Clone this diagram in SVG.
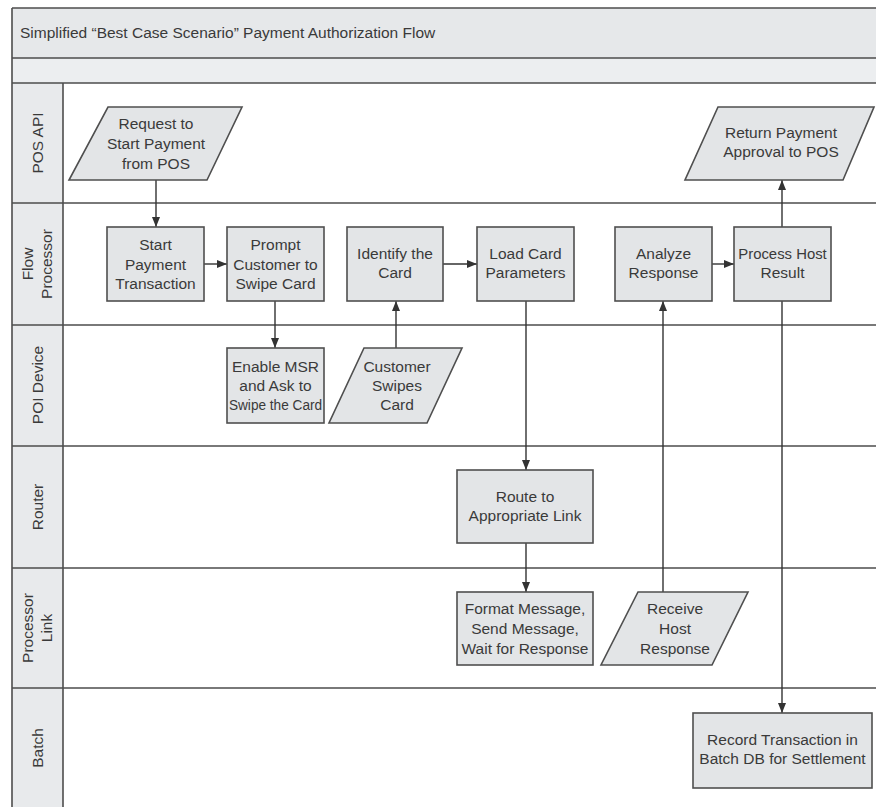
<svg xmlns="http://www.w3.org/2000/svg" width="876" height="807" viewBox="0 0 876 807">
<defs>
<style>
.lane{stroke:#4d4d4d;stroke-width:1.6;fill:none}
.node{fill:#e3e5e7;stroke:#4f4f4f;stroke-width:1.6}
.t{font-family:"Liberation Sans",Arial,sans-serif;font-size:15.5px;fill:#3a3a3a;text-anchor:middle}
.lbl{font-family:"Liberation Sans",Arial,sans-serif;font-size:15.5px;fill:#3a3a3a;text-anchor:middle}
.title{font-family:"Liberation Sans",Arial,sans-serif;font-size:15.5px;fill:#3a3a3a}
.c{stroke:#333;stroke-width:1.4;fill:none;marker-end:url(#ah)}
</style>
<marker id="ah" markerWidth="10" markerHeight="8" refX="10" refY="4" orient="auto" markerUnits="userSpaceOnUse">
<path d="M0,0 L10,4 L0,8 Z" fill="#333"/>
</marker>
</defs>
<rect width="876" height="807" fill="#fff"/>
<g id="lanes">
<rect x="12" y="8" width="870" height="50" fill="#e6e8ea"/>
<rect x="12" y="58" width="870" height="25" fill="#eceef0"/>
<rect x="12" y="83" width="51" height="730" fill="#e8eaec"/>
<line class="lane" x1="12" y1="8" x2="876" y2="8"/>
<line class="lane" x1="12" y1="58" x2="876" y2="58"/>
<line class="lane" x1="12" y1="83" x2="876" y2="83"/>
<line class="lane" x1="12" y1="203" x2="876" y2="203"/>
<line class="lane" x1="12" y1="325" x2="876" y2="325"/>
<line class="lane" x1="12" y1="446" x2="876" y2="446"/>
<line class="lane" x1="12" y1="568" x2="876" y2="568"/>
<line class="lane" x1="12" y1="688" x2="876" y2="688"/>
<line class="lane" x1="12" y1="8" x2="12" y2="807"/>
<line class="lane" x1="63" y1="83" x2="63" y2="807"/>
<text class="title" x="20" y="38">Simplified “Best Case Scenario” Payment Authorization Flow</text>
<text class="lbl" transform="translate(37,143) rotate(-90)" y="6">POS API</text>
<text class="lbl" transform="translate(37,264) rotate(-90)"><tspan x="0" y="-4">Flow</tspan><tspan x="0" y="15">Processor</tspan></text>
<text class="lbl" transform="translate(37,385) rotate(-90)" y="6">POI Device</text>
<text class="lbl" transform="translate(37,507) rotate(-90)" y="6">Router</text>
<text class="lbl" transform="translate(37,628) rotate(-90)"><tspan x="0" y="-4">Processor</tspan><tspan x="0" y="15">Link</tspan></text>
<text class="lbl" transform="translate(37,748) rotate(-90)" y="6">Batch</text>
</g>
<g id="connectors">
<line class="c" x1="156" y1="180" x2="156" y2="227"/>
<line class="c" x1="204" y1="264" x2="227" y2="264"/>
<line class="c" x1="275" y1="301" x2="275" y2="348"/>
<line class="c" x1="396" y1="348" x2="396" y2="301"/>
<line class="c" x1="443" y1="264" x2="477" y2="264"/>
<line class="c" x1="526" y1="301" x2="526" y2="470"/>
<line class="c" x1="526" y1="543" x2="526" y2="592"/>
<line class="c" x1="663" y1="592" x2="663" y2="301"/>
<line class="c" x1="712" y1="264" x2="734" y2="264"/>
<line class="c" x1="782" y1="227" x2="782" y2="180"/>
<line class="c" x1="782" y1="301" x2="782" y2="713"/>
</g>
<g id="request">
<polygon class="node" points="108,107 242,107 207,180 69,180"/>
<text class="t"><tspan x="156" y="129">Request to</tspan><tspan x="156" y="149">Start Payment</tspan><tspan x="156" y="169">from POS</tspan></text>
</g>
<g id="start">
<rect class="node" x="107" y="227" width="97" height="74"/>
<text class="t"><tspan x="155.5" y="250">Start</tspan><tspan x="155.5" y="269.5">Payment</tspan><tspan x="155.5" y="289">Transaction</tspan></text>
</g>
<g id="prompt">
<rect class="node" x="227" y="227" width="97" height="74"/>
<text class="t"><tspan x="275.5" y="250">Prompt</tspan><tspan x="275.5" y="269.5">Customer to</tspan><tspan x="275.5" y="289">Swipe Card</tspan></text>
</g>
<g id="identify">
<rect class="node" x="347" y="227" width="96" height="74"/>
<text class="t"><tspan x="395" y="259">Identify the</tspan><tspan x="395" y="278">Card</tspan></text>
</g>
<g id="load">
<rect class="node" x="477" y="227" width="97" height="74"/>
<text class="t"><tspan x="525.5" y="259">Load Card</tspan><tspan x="525.5" y="278">Parameters</tspan></text>
</g>
<g id="analyze">
<rect class="node" x="615" y="227" width="97" height="74"/>
<text class="t"><tspan x="663.5" y="259">Analyze</tspan><tspan x="663.5" y="278">Response</tspan></text>
</g>
<g id="process">
<rect class="node" x="734" y="227" width="97" height="74"/>
<text class="t" transform="translate(782.5,259) scale(0.96,1)" x="0" y="0">Process Host</text>
<text class="t" x="782.5" y="278">Result</text>
</g>
<g id="return">
<polygon class="node" points="718,107 874,107 843,180 685,180"/>
<text class="t"><tspan x="781" y="138">Return Payment</tspan><tspan x="781" y="157">Approval to POS</tspan></text>
</g>
<g id="enable">
<rect class="node" x="227" y="348" width="97" height="75"/>
<text class="t"><tspan x="275.5" y="372">Enable MSR</tspan><tspan x="275.5" y="391">and Ask to</tspan></text>
<text class="t" transform="translate(275.5,410) scale(0.88,1)" x="0" y="0">Swipe the Card</text>
</g>
<g id="swipes">
<polygon class="node" points="364,348 462,348 427,423 329,423"/>
<text class="t"><tspan x="397" y="372">Customer</tspan><tspan x="397" y="391">Swipes</tspan><tspan x="397" y="410">Card</tspan></text>
</g>
<g id="route">
<rect class="node" x="457" y="470" width="136" height="73"/>
<text class="t"><tspan x="525" y="502">Route to</tspan><tspan x="525" y="521">Appropriate Link</tspan></text>
</g>
<g id="format">
<rect class="node" x="457" y="592" width="136" height="73"/>
<text class="t"><tspan x="525" y="614">Format Message,</tspan><tspan x="525" y="634">Send Message,</tspan><tspan x="525" y="654">Wait for Response</tspan></text>
</g>
<g id="receive">
<polygon class="node" points="638,592 748,592 712,665 601,665"/>
<text class="t"><tspan x="675" y="614">Receive</tspan><tspan x="675" y="634">Host</tspan><tspan x="675" y="654">Response</tspan></text>
</g>
<g id="record">
<rect class="node" x="693" y="713" width="179" height="75"/>
<text class="t"><tspan x="782.5" y="745">Record Transaction in</tspan><tspan x="782.5" y="764">Batch DB for Settlement</tspan></text>
</g>
</svg>
